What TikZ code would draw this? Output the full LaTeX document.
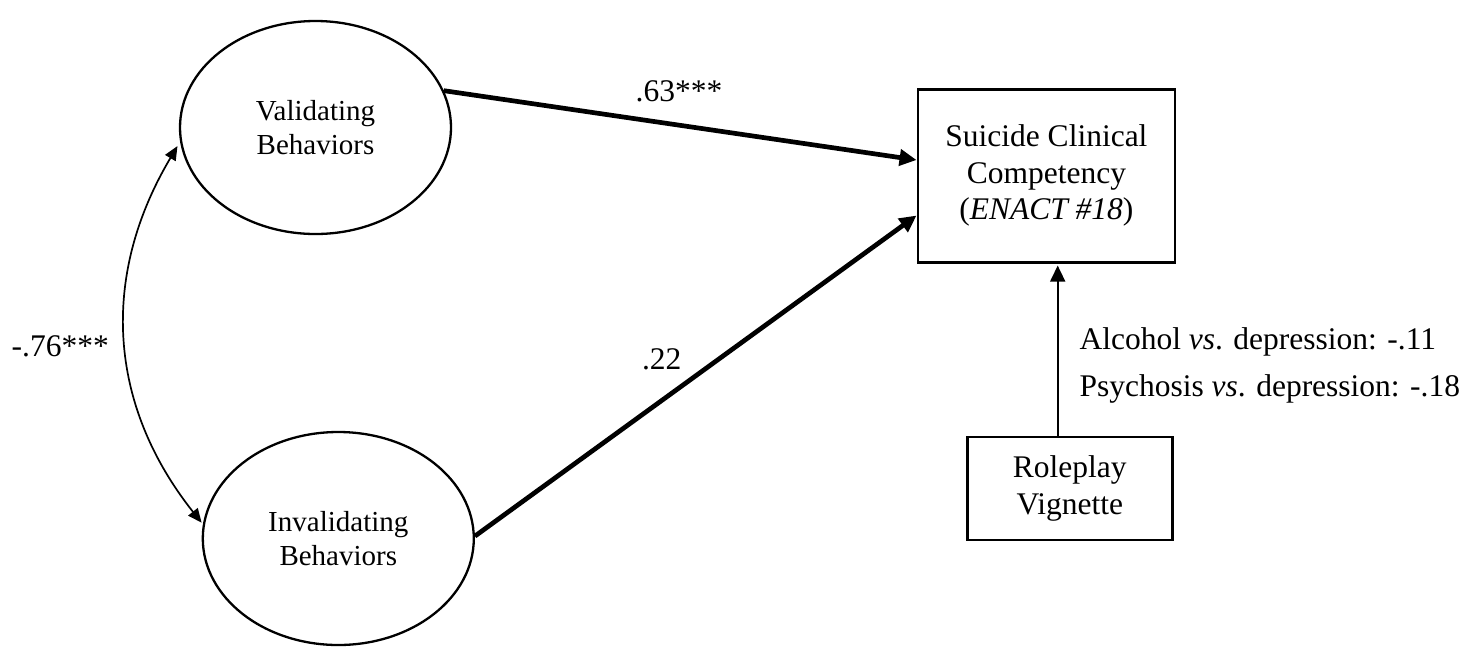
\documentclass[tikz,border=0pt]{standalone}
\usepackage{fontspec}
\setmainfont{Liberation Serif}
\usetikzlibrary{arrows.meta,shapes.geometric}

\begin{document}
\begin{tikzpicture}[x=1pt,y=-1pt,
  latent/.style={draw, ellipse, line width=2.3pt, minimum width=271pt,
    minimum height=213pt, inner sep=0pt, align=center,
    font=\fontsize{29}{33.4}\selectfont},
  observed/.style={draw, rectangle, line width=2.7pt, inner sep=0pt,
    align=center, font=\fontsize{31.5}{36.5}\selectfont},
  lbl/.style={inner sep=0pt, font=\fontsize{31.5}{36.5}\selectfont},
  regpath/.style={line width=4.7pt, -{Triangle[length=17pt,width=16pt]}},
  modpath/.style={line width=1.7pt, -{Triangle[length=16pt,width=15pt]},
    shorten >=2pt},
  covpath/.style={line width=1.7pt,
    {Triangle[length=14pt,width=12pt]}-{Triangle[length=14pt,width=12pt]},
    shorten >=5pt, shorten <=2pt}
]
\useasboundingbox (0,0) rectangle (1463,649);

% latent factors
\node[latent] (val) at (315.5,127.5) {Validating\\Behaviors};
\node[latent] (inv) at (338.3,538.5) {Invalidating\\Behaviors};

% observed variables
\node[observed, minimum width=257pt, minimum height=173pt] (comp)
  at (1046.4,175.7) {Suicide Clinical\\Competency\\(\textit{ENACT \#18})};
\node[observed, minimum width=205pt, minimum height=103pt] (role)
  at (1069.8,488.5) {Roleplay\\Vignette};

% structural paths
\draw[regpath] (val.16.4) -- ([yshift=15.7pt]comp.west);
\draw[regpath] (inv.1.7) -- ([yshift=-39.8pt]comp.west);

% covariate path
\coordinate (rtop) at ([xshift=-12.1pt]role.north);
\draw[modpath] (rtop) -- (rtop |- comp.south);

% factor covariance
\draw[covpath] (inv.174.9) .. controls (108.3,405) and (99.7,277) .. (val.186.5);

% coefficients
\node[lbl, anchor=base] (l63) at (679,101.7) {.63***};
\node[lbl, anchor=base] (l22) at (661.7,369) {.22};
\node[lbl, anchor=base] (l76) at (60.3,356.7) {-.76***};
\node[lbl, anchor=base west] (lalc) at (1079.3,349.3)
  {Alcohol \textit{vs}. depression: -.11};
\node[lbl, anchor=base west] (lpsy) at (1079.3,396.7)
  {Psychosis \textit{vs}. depression: -.18};
\end{tikzpicture}
\end{document}
